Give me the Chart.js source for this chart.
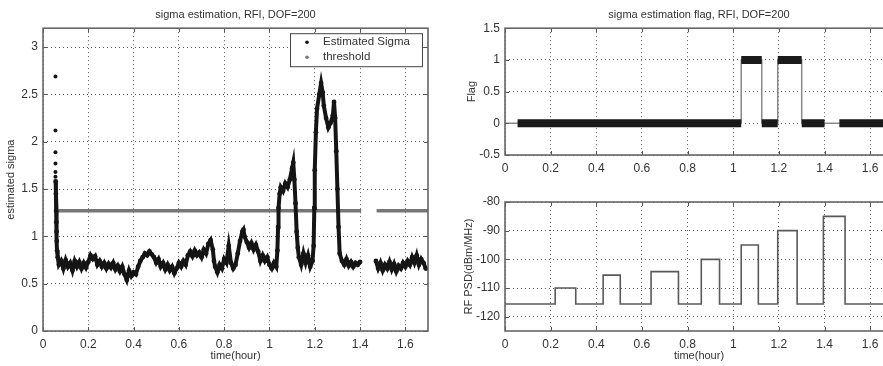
<!DOCTYPE html>
<html>
<head>
<meta charset="utf-8">
<script src="https://cdn.jsdelivr.net/npm/chart.js@4"></script>
<style>
  html, body { margin: 0; padding: 0; background: #fff; overflow: hidden; }
  body { width: 883px; height: 366px; position: relative; }
  .box { position: absolute; }
  #sigmaBox { left: 0; top: 0; }
  #flagBox { left: 440px; top: 0; }
  #psdBox { left: 440px; top: 180px; }
</style>
</head>
<body>
<div class="box" id="sigmaBox"><canvas id="sigmaChart" width="440" height="366"></canvas></div>
<div class="box" id="flagBox"><canvas id="flagChart" width="463" height="180"></canvas></div>
<div class="box" id="psdBox"><canvas id="psdChart" width="463" height="186"></canvas></div>
<script>
// tick labels
const timeTicks = [0, 0.2, 0.4, 0.6, 0.8, 1, 1.2, 1.4, 1.6];
const sigmaTicks = [0, 0.5, 1, 1.5, 2, 2.5, 3];
const flagTicks = [-0.5, 0, 0.5, 1, 1.5];
const psdTicks = [-120, -110, -100, -90, -80];

// estimated sigma (time in hours)
const sigmaTime = [
  0.056, 0.057, 0.058, 0.059, 0.060, 0.061, 0.062, 0.065, 0.07, 0.08, 0.09,
  0.10, 0.11, 0.12, 0.13, 0.14, 0.15, 0.16, 0.17, 0.18, 0.19,
  0.20, 0.21, 0.22, 0.23, 0.24, 0.25, 0.26, 0.27, 0.28, 0.29,
  0.30, 0.31, 0.32, 0.33, 0.34, 0.35, 0.36, 0.37, 0.38, 0.39,
  0.40, 0.41, 0.42, 0.43, 0.44, 0.45, 0.46, 0.47, 0.48, 0.49,
  0.50, 0.51, 0.52, 0.53, 0.54, 0.55, 0.56, 0.57, 0.58, 0.59,
  0.60, 0.61, 0.62, 0.63, 0.64, 0.65, 0.66, 0.67, 0.68, 0.69,
  0.70, 0.71, 0.72, 0.73, 0.74, 0.75, 0.755, 0.76, 0.77, 0.78, 0.79,
  0.80, 0.81, 0.82, 0.83, 0.84, 0.85, 0.86, 0.87, 0.88, 0.885, 0.89,
  0.90, 0.91, 0.92, 0.93, 0.94, 0.95, 0.96, 0.97, 0.98, 0.99,
  1.00, 1.01, 1.02, 1.03, 1.035, 1.038, 1.04, 1.045, 1.05, 1.06, 1.07, 1.08, 1.09,
  1.10, 1.105, 1.11, 1.115, 1.12, 1.125, 1.13, 1.14, 1.15, 1.16, 1.17, 1.18, 1.19,
  1.195, 1.198, 1.20, 1.205, 1.21, 1.22, 1.228, 1.235, 1.24, 1.25, 1.26, 1.27, 1.28, 1.285, 1.29, 1.295,
  1.30, 1.305, 1.31, 1.32, 1.33, 1.34, 1.35, 1.36, 1.37, 1.38, 1.39, 1.40,
  1.43,
  1.47, 1.48, 1.49, 1.50, 1.51, 1.52, 1.53, 1.54, 1.55, 1.56, 1.57, 1.58, 1.59,
  1.60, 1.61, 1.62, 1.63, 1.64, 1.65, 1.66, 1.67, 1.68, 1.69
];
const sigmaValue = [
  1.58, 1.45, 1.27, 1.15, 1.05, 0.95, 0.85, 0.78, 0.70, 0.74, 0.66,
  0.75, 0.68, 0.72, 0.64, 0.74, 0.68, 0.73, 0.66, 0.72, 0.67,
  0.73, 0.80, 0.76, 0.79, 0.70, 0.74, 0.68, 0.72, 0.66, 0.71,
  0.67, 0.72, 0.65, 0.69, 0.63, 0.68, 0.60, 0.54, 0.64, 0.58,
  0.62, 0.60, 0.68, 0.74, 0.78, 0.82, 0.80, 0.84, 0.81, 0.78,
  0.72, 0.76, 0.68, 0.72, 0.65, 0.70, 0.64, 0.68, 0.61, 0.66,
  0.72, 0.68, 0.74, 0.70, 0.80, 0.84, 0.79, 0.85, 0.80, 0.83,
  0.78, 0.86, 0.82, 0.92, 0.96, 0.86, 0.74, 0.68, 0.62, 0.70, 0.66,
  0.76, 0.72, 0.90, 0.72, 0.66, 0.70, 0.82, 0.95, 1.05, 1.07, 1.00,
  0.94, 0.88, 0.93, 0.86, 0.91, 0.84, 0.74, 0.80, 0.74, 0.78,
  0.70, 0.66, 0.72, 0.68, 0.85, 1.10, 1.30, 1.45, 1.52, 1.48, 1.56, 1.52, 1.60,
  1.72, 1.78, 1.60, 1.35, 1.05, 0.88, 0.78, 0.70, 0.82, 0.72, 0.80, 0.68, 0.74,
  0.90, 1.30, 1.70, 2.10, 2.35, 2.50, 2.62, 2.52, 2.38, 2.25, 2.15, 2.20, 2.28, 2.42, 2.25, 1.90,
  1.50, 1.10, 0.82, 0.74, 0.70, 0.76, 0.69, 0.73, 0.68, 0.72, 0.70, 0.73,
  null,
  0.74, 0.66, 0.72, 0.64, 0.70, 0.66, 0.73, 0.65, 0.71, 0.63, 0.69, 0.66, 0.72,
  0.68, 0.74, 0.70, 0.78, 0.72, 0.80, 0.70, 0.76, 0.72, 0.66
];
// isolated first estimates at start-up
const startTime = [0.055, 0.055, 0.055, 0.055, 0.055, 0.055];
const startValue = [2.69, 2.12, 1.89, 1.77, 1.68, 1.63];

const thresholdTime = [0.055, 0.062, 1.405, 1.44, 1.473, 1.7];
const thresholdValue = [1.6, 1.27, 1.27, null, 1.27, 1.27];

// flag
const flagTime = [0, 1.035, 1.125, 1.195, 1.3, 1.7];
const flagValue = [0, 1, 0, 1, 0, 0];
const flagMarkStart = [0.055, 1.035, 1.125, 1.195, 1.3, 1.465];
const flagMarkEnd = [1.035, 1.125, 1.195, 1.3, 1.4, 1.7];
const flagMarkValue = [0, 1, 0, 1, 0, 0];

// RF PSD
const psdTime = [0, 0.22, 0.31, 0.43, 0.505, 0.64, 0.76, 0.86, 0.94, 1.035, 1.11, 1.195, 1.28, 1.395, 1.49, 1.7];
const psdLevel = [-115.6, -110, -115.6, -105.5, -115.6, -104.3, -115.6, -100, -115.6, -95, -115.6, -90, -115.6, -85, -115.6, -115.6];

const FONT = 'Liberation Sans, Arial, Helvetica, sans-serif';
const TEXT = '#333';

function xy(xs, ys) {
    return xs.map((x, i) => ({ x: x, y: ys[i] }));
}

function axis(ticks, min, max, size, title, titlePad, horizontal) {
    return {
        type: 'linear',
        min: min,
        max: max,
        afterBuildTicks: s => { s.ticks = ticks.map(v => ({ value: v })); },
        afterFit: s => { if (horizontal) s.height = size; else s.width = size; },
        grid: { color: '#5e5e5e', lineWidth: 1, drawTicks: false },
        border: { display: false, dash: [1, 3] },
        ticks: {
            padding: horizontal ? 6 : 5,
            color: TEXT,
            font: { family: FONT, size: 12 },
            maxRotation: 0,
            autoSkip: false,
            callback: v => String(v)
        },
        title: {
            display: !!title,
            text: title || '',
            color: TEXT,
            font: { family: FONT, size: 11 },
            padding: horizontal ? { top: 0, bottom: titlePad } : { top: titlePad, bottom: 0 }
        }
    };
}

const framePlugin = {
    id: 'frame',
    afterDraw(chart) {
        const { ctx, chartArea: a, scales } = chart;
        ctx.save();
        ctx.strokeStyle = '#555';
        ctx.lineWidth = 1;
        ctx.beginPath();
        scales.x.ticks.forEach(t => {
            const px = Math.round(scales.x.getPixelForValue(t.value)) + 0.5;
            ctx.moveTo(px, a.bottom); ctx.lineTo(px, a.bottom - 4);
            ctx.moveTo(px, a.top); ctx.lineTo(px, a.top + 4);
        });
        scales.y.ticks.forEach(t => {
            const py = Math.round(scales.y.getPixelForValue(t.value)) + 0.5;
            ctx.moveTo(a.left, py); ctx.lineTo(a.left + 4, py);
            ctx.moveTo(a.right, py); ctx.lineTo(a.right - 4, py);
        });
        ctx.stroke();
        ctx.strokeStyle = '#666';
        ctx.lineWidth = 1.6;
        ctx.strokeRect(a.left, a.top, a.right - a.left, a.bottom - a.top);
        ctx.restore();
    }
};

const sigmaLegend = {
    id: 'sigmaLegend',
    afterDraw(chart) {
        const { ctx, chartArea: a } = chart;
        const bx = a.right - 138, by = a.top + 5, bw = 132, bh = 33;
        ctx.save();
        ctx.fillStyle = '#fff';
        ctx.fillRect(bx, by, bw, bh);
        ctx.strokeStyle = '#444';
        ctx.lineWidth = 1;
        ctx.strokeRect(bx + 0.5, by + 0.5, bw, bh);
        const items = [['Estimated Sigma', '#111'], ['threshold', '#777']];
        ctx.font = '11.5px ' + FONT;
        ctx.textBaseline = 'middle';
        items.forEach((it, i) => {
            const cy = by + 9 + i * 15;
            ctx.fillStyle = it[1];
            ctx.beginPath();
            ctx.arc(bx + 17, cy, 1.8, 0, Math.PI * 2);
            ctx.fill();
            ctx.fillStyle = TEXT;
            ctx.fillText(it[0], bx + 33, cy);
        });
        ctx.restore();
    }
};

const common = {
    responsive: false,
    animation: false,
    devicePixelRatio: 1,
    events: []
};

new Chart(document.getElementById('sigmaChart'), {
    type: 'scatter',
    data: {
        datasets: [{
            data: xy(sigmaTime, sigmaValue),
            showLine: true,
            borderColor: '#151515',
            borderWidth: 4,
            pointRadius: 2.4,
            pointBorderWidth: 0,
            pointBackgroundColor: '#151515'
        }, {
            data: xy(startTime, startValue),
            showLine: false,
            pointRadius: 2,
            pointBorderWidth: 0,
            pointBackgroundColor: '#151515'
        }, {
            data: xy(thresholdTime, thresholdValue),
            showLine: true,
            borderColor: '#777',
            borderWidth: 3.5,
            pointRadius: 0
        }]
    },
    options: Object.assign({}, common, {
        layout: { padding: { left: 0, right: 12, top: 0, bottom: 0 } },
        scales: {
            x: axis(timeTicks, 0, 1.7, 35, 'time(hour)', 3, true),
            y: axis(sigmaTicks, 0, 3.2, 43, 'estimated sigma', 4, false)
        },
        plugins: {
            legend: { display: false },
            tooltip: { enabled: false },
            title: {
                display: true,
                text: 'sigma estimation, RFI, DOF=200',
                fullSize: false,
                color: TEXT,
                font: { family: FONT, size: 11, weight: 'normal' },
                padding: { top: 8, bottom: 7 }
            }
        }
    }),
    plugins: [framePlugin, sigmaLegend]
});

const flagMarks = [];
flagMarkStart.forEach((s, i) => {
    flagMarks.push({ x: s, y: flagMarkValue[i] });
    flagMarks.push({ x: flagMarkEnd[i], y: flagMarkValue[i] });
    flagMarks.push({ x: flagMarkEnd[i], y: null });
});

new Chart(document.getElementById('flagChart'), {
    type: 'scatter',
    data: {
        datasets: [{
            data: flagMarks,
            showLine: true,
            borderColor: '#1a1a1a',
            borderWidth: 8,
            borderCapStyle: 'butt',
            pointRadius: 0
        }, {
            data: xy(flagTime, flagValue),
            showLine: true,
            stepped: 'before',
            borderColor: '#8a8a8a',
            borderWidth: 1.5,
            pointRadius: 0
        }]
    },
    options: Object.assign({}, common, {
        layout: { padding: { left: 0, right: 10, top: 0, bottom: 0 } },
        scales: {
            x: axis(timeTicks, 0, 1.7, 25, '', 0, true),
            y: axis(flagTicks, -0.5, 1.5, 65, 'Flag', 25.4, false)
        },
        plugins: {
            legend: { display: false },
            tooltip: { enabled: false },
            title: {
                display: true,
                text: 'sigma estimation flag, RFI, DOF=200',
                fullSize: false,
                color: TEXT,
                font: { family: FONT, size: 11, weight: 'normal' },
                padding: { top: 8, bottom: 7 }
            }
        }
    }),
    plugins: [framePlugin]
});

new Chart(document.getElementById('psdChart'), {
    type: 'scatter',
    data: {
        datasets: [{
            data: xy(psdTime, psdLevel),
            showLine: true,
            stepped: 'before',
            borderColor: '#5a5a5a',
            borderWidth: 1.6,
            pointRadius: 0
        }]
    },
    options: Object.assign({}, common, {
        layout: { padding: { left: 0, right: 10, top: 22, bottom: 0 } },
        scales: {
            x: axis(timeTicks, 0, 1.7, 35, 'time(hour)', 3, true),
            y: axis(psdTicks, -125, -80, 65, 'RF PSD(dBm/MHz)', 22.4, false)
        },
        plugins: {
            legend: { display: false },
            tooltip: { enabled: false },
            title: { display: false }
        }
    }),
    plugins: [framePlugin]
});
</script>
</body>
</html>
